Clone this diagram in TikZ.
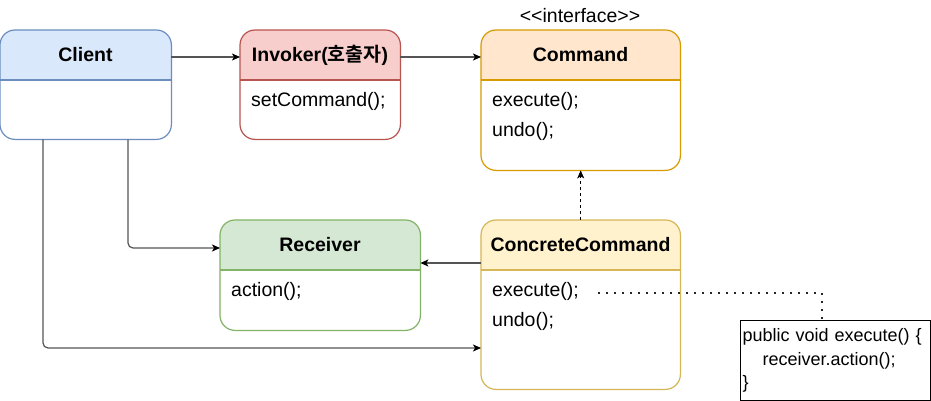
\documentclass[tikz,border=0pt]{standalone}
\usepackage{fontspec}
\setmainfont{Liberation Sans}
\newfontfamily\krfont{Noto Sans CJK KR}[BoldFont={Noto Sans CJK KR Bold}]
\usetikzlibrary{arrows.meta}
\definecolor{bluefill}{HTML}{DAE8FC}
\definecolor{bluestroke}{HTML}{6C8EBF}
\definecolor{redfill}{HTML}{F8CECC}
\definecolor{redstroke}{HTML}{B85450}
\definecolor{orangefill}{HTML}{FFE6CC}
\definecolor{orangestroke}{HTML}{D79B00}
\definecolor{yellowfill}{HTML}{FFF2CC}
\definecolor{yellowstroke}{HTML}{D6B656}
\definecolor{greenfill}{HTML}{D5E8D4}
\definecolor{greenstroke}{HTML}{82B366}
\definecolor{connline}{HTML}{555555}
\tikzset{
  boxshape/.style={rectangle, inner sep=0pt, anchor=north west},
  titletext/.style={font=\fontsize{19.5}{23.5}\selectfont\bfseries, inner sep=0pt},
  bodytext/.style={font=\fontsize{19.5}{23.5}\selectfont, inner sep=0pt, anchor=west},
  conn/.style={draw=connline, line width=1.2pt, -{Stealth[length=8pt, width=7pt, inset=2pt, color=black]}},
  dashconn/.style={draw=black, line width=1pt, dash pattern=on 3pt off 3pt, -{Stealth[length=8pt, width=7pt, inset=2pt, color=black]}},
  dotconn/.style={draw=black!85, line width=1.5pt, dash pattern=on 1.5pt off 6.5pt},
  notebox/.style={draw=black, line width=1.3pt, rectangle, anchor=north west, inner sep=2pt, align=left,
    font=\fontsize{18}{23.5}\selectfont, text width=186pt, minimum height=80pt}
}
\newcommand{\umlbox}[9]{%
  \node[boxshape, fill=white, minimum width={#4-#2}, minimum height={#5-#3}] (#1) at (#2,#3) {};
  \begin{scope}
    \clip (#2,#3) rectangle (#4,#6);
    \fill[#7, rounded corners=15pt] (#2,#3) rectangle (#4,#5);
  \end{scope}
  \draw[#8, line width=1.2pt, rounded corners=15pt] (#1.north west) rectangle (#1.south east);
  \draw[#8, line width=1.2pt] (#2,#6) -- (#4,#6);
  \node[titletext] (#1-title) at ({(#2+#4)/2},{(#3+#6)/2}) {#9};
}
\begin{document}
\begin{tikzpicture}[x=1pt, y=-1pt]
\fill[white] (0,0) rectangle (931,401);
\useasboundingbox (0,0) rectangle (931,401);

\umlbox{client}{0}{30}{171}{139}{80}{bluefill}{bluestroke}{Client}
\umlbox{invoker}{240}{30}{400}{139}{80}{redfill}{redstroke}{Invoker({\krfont\bfseries 호출자})}
\umlbox{command}{481}{30}{680}{170}{80}{orangefill}{orangestroke}{Command}
\umlbox{receiver}{220}{220}{420}{330}{270}{greenfill}{greenstroke}{Receiver}
\umlbox{cc}{481}{220}{680}{389}{270}{yellowfill}{yellowstroke}{ConcreteCommand}

\node[inner sep=0pt, font=\fontsize{19.5}{23.5}\selectfont] (iface) at (580,16) {<\kern0pt<interface>\kern0pt>};

\node[bodytext] (inv-set) at (251,101) {setCommand();};
\node[bodytext] (cmd-exec) at (492,101) {execute();};
\node[bodytext] (cmd-undo) at (492,131) {undo();};
\node[bodytext] (rec-act) at (231,291) {action();};
\node[bodytext] (cc-exec) at (492,291) {execute();};
\node[bodytext] (cc-undo) at (492,321) {undo();};

\node[notebox] (note) at (740,320) {public void execute() \{\\\hspace*{20pt}receiver.action();\\\}};

\draw[conn] (client.east |- 0,57) -- (invoker.west |- 0,57);
\draw[conn] (invoker.east |- 0,57) -- (command.west |- 0,57);
\draw[dashconn] (cc.north) -- (command.south);
\draw[conn] (cc.west |- 0,263) -- (receiver.east |- 0,263);
\draw[conn, rounded corners=5pt] (client.south -| 128,0) |- (receiver.west |- 0,248);
\draw[conn, rounded corners=5pt] (client.south -| 43,0) |- (cc.west |- 0,348);

\coordinate (dotstart) at (598,293);
\coordinate (notetop) at (822,320);
\draw[dotconn] (dotstart) -| (notetop);
\end{tikzpicture}
\end{document}
